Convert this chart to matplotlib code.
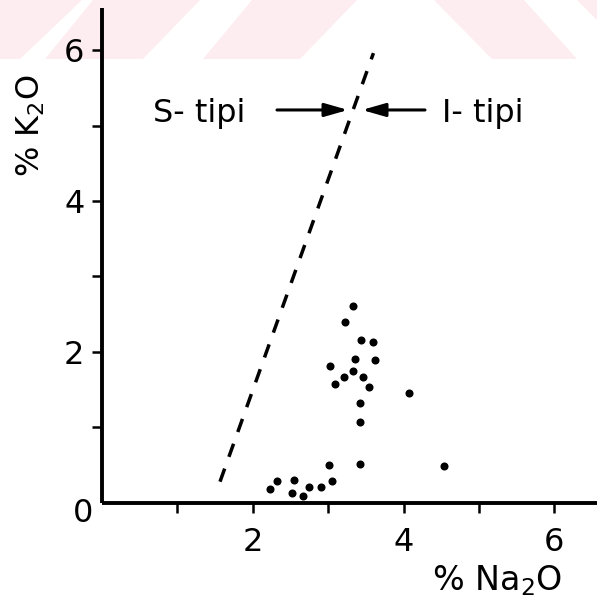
import matplotlib
matplotlib.use('Agg')
import matplotlib.pyplot as plt
from matplotlib.patches import Polygon

# ---- data ----
na2o = [3.33, 3.22, 3.43, 3.59, 3.35, 3.62, 3.02, 3.21, 3.33, 3.46, 3.09, 3.54,
        4.07, 3.42, 3.42, 3.01, 3.42, 4.53, 3.05, 2.91, 2.74, 2.67, 2.52, 2.54,
        2.32, 2.23]
k2o = [2.61, 2.40, 2.16, 2.13, 1.90, 1.89, 1.81, 1.67, 1.74, 1.67, 1.57, 1.53,
       1.45, 1.32, 1.07, 0.50, 0.51, 0.48, 0.29, 0.20, 0.20, 0.08, 0.12, 0.30,
       0.29, 0.18]
boundary_na2o = [1.565, 3.60]
boundary_k2o = [0.276, 5.96]
xtick_vals = [1, 2, 3, 4, 5, 6]
xtick_labels = ['', '2', '', '4', '', '6']
ytick_vals = [1, 2, 3, 4, 5, 6]
ytick_labels = ['', '2', '', '4', '', '6']
zero_label = '0'
x_label = '% Na$_2$O'
y_label = '% K$_2$O'
s_label = 'S- tipi'
i_label = 'I- tipi'
arrow_y = 5.206
s_arrow = (2.321, 3.263)   # tail, tip
i_arrow = (4.284, 3.448)   # tail, tip

# ---- figure ----
W, H = 597, 605
plt.rcParams['font.family'] = ['DejaVu Sans']
plt.rcParams['mathtext.fontset'] = 'dejavusans'
plt.rcParams['lines.scale_dashes'] = False
fig = plt.figure(figsize=(W / 100, H / 100), dpi=100)
fig.patch.set_facecolor('white')

# faint watermark band at the top
pink = '#fdedf0'
wm_polys = [
    [(0, 0), (82, 0), (20, 59), (0, 59)],
    [(93, 0), (200, 0), (143, 59), (45, 59)],
    [(252, 0), (357, 0), (300, 59), (203, 59)],
    [(434, 0), (524, 0), (577, 59), (492, 59)],
    [(577, 0), (597, 0), (597, 20)],
]
for poly in wm_polys:
    pts = [(px / W, 1 - py / H) for px, py in poly]
    fig.add_artist(Polygon(pts, closed=True, transform=fig.transFigure,
                           facecolor=pink, edgecolor='none', zorder=0))

ax = fig.add_axes([102 / W, (H - 502.5) / H, 495 / W, 494.5 / H])
ax.set_facecolor('none')
ax.set_xlim(0, 495 / 75.4)
ax.set_ylim(0, 494.5 / 75.4)

for side in ['top', 'right']:
    ax.spines[side].set_visible(False)
for side in ['left', 'bottom']:
    ax.spines[side].set_linewidth(2.8)
    ax.spines[side].set_capstyle('butt')

ax.set_xticks(xtick_vals)
ax.set_xticklabels(xtick_labels)
ax.set_yticks(ytick_vals)
ax.set_yticklabels(ytick_labels)
ax.tick_params(axis='x', direction='out', length=7.2, width=1.8, pad=10.5,
               labelsize=23)
ax.tick_params(axis='y', direction='out', length=7.2, width=1.8, pad=5.4,
               labelsize=23)
ax.text(-9 / 75.4, -19.5 / 75.4, zero_label, ha='right', va='baseline',
        fontsize=23, clip_on=False)

# boundary line (dashed)
ax.plot(boundary_na2o, boundary_k2o, color='black', lw=2.5,
        dashes=(10, 9), solid_capstyle='butt', dash_capstyle='butt')

# data points
ax.plot(na2o, k2o, 'o', color='black', ms=5.8, mew=0, clip_on=False)

# annotations
arrowprops = dict(arrowstyle='-|>,head_length=0.7,head_width=0.2',
                  color='black', lw=2.2, mutation_scale=20,
                  shrinkA=0, shrinkB=0)
ax.annotate('', xy=(s_arrow[1], arrow_y), xytext=(s_arrow[0], arrow_y),
            arrowprops=arrowprops)
ax.annotate('', xy=(i_arrow[1], arrow_y), xytext=(i_arrow[0], arrow_y),
            arrowprops=arrowprops)
ax.text((153 - 102) / 75.4, 5.046, s_label, ha='left', va='baseline',
        fontsize=23)
ax.text((442 - 102) / 75.4, 5.046, i_label, ha='left', va='baseline',
        fontsize=23)

# axis titles
fig.text(497 / W, 1 - 590 / H, x_label, ha='center', va='baseline',
         fontsize=24)
fig.text(31 / W, 1 - 126 / H, y_label, ha='center', va='center',
         rotation=90, fontsize=23)

fig.savefig('out.png', dpi=100)
